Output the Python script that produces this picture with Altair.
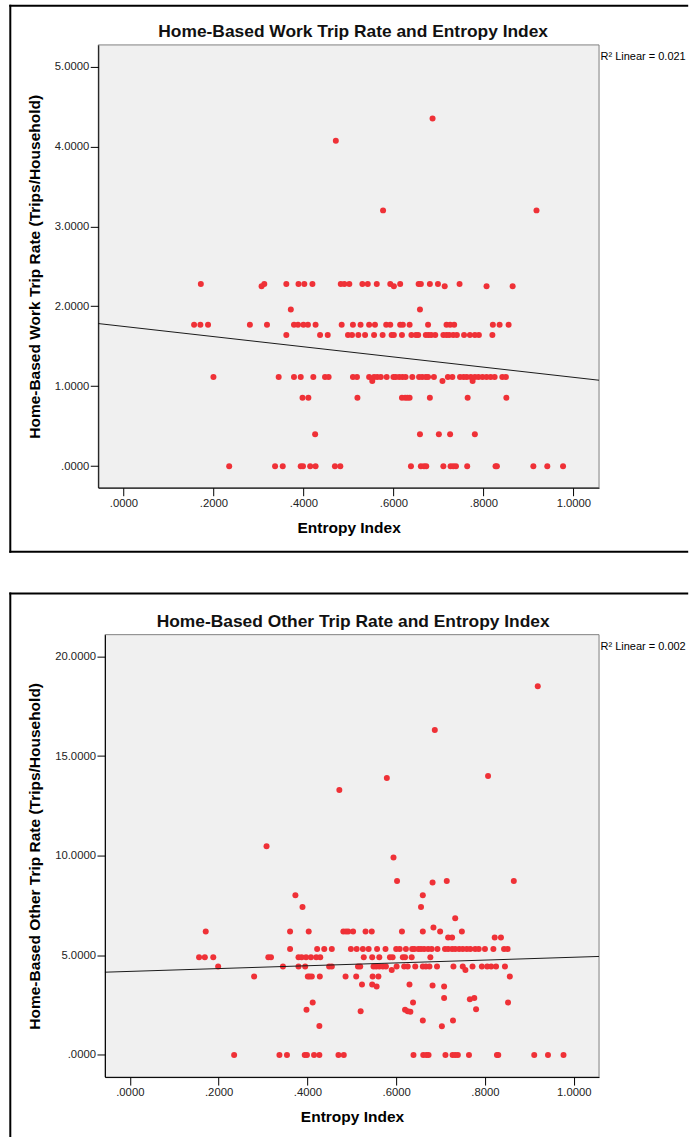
import altair as alt
import pandas as pd

# ---------------- Panel 1: Home-Based Work trip rate ----------------
hbw_levels = [2.28, 2.25, 1.96, 1.77, 1.64, 1.115, 1.065, 0.855, 0.40, 0.0]
hbw_entropy_by_level = [
    [0.172, 0.313, 0.362, 0.389, 0.402, 0.420, 0.483, 0.491, 0.502, 0.531, 0.543,
     0.563, 0.593, 0.615, 0.656, 0.661, 0.681, 0.699, 0.747],
    [0.307, 0.601, 0.714, 0.807, 0.865],
    [0.372, 0.659],
    [0.157, 0.171, 0.188, 0.281, 0.319, 0.379, 0.388, 0.400, 0.410, 0.427, 0.485,
     0.510, 0.527, 0.546, 0.559, 0.584, 0.593, 0.615, 0.621, 0.636, 0.677, 0.718,
     0.726, 0.735, 0.821, 0.836, 0.856],
    [0.362, 0.437, 0.454, 0.499, 0.508, 0.522, 0.537, 0.557, 0.576, 0.596, 0.601,
     0.619, 0.640, 0.650, 0.655, 0.672, 0.678, 0.684, 0.693, 0.711, 0.718, 0.724,
     0.733, 0.741, 0.757, 0.770, 0.781, 0.790, 0.820],
    [0.200, 0.345, 0.379, 0.394, 0.422, 0.448, 0.456, 0.510, 0.519, 0.546, 0.557,
     0.564, 0.572, 0.585, 0.600, 0.605, 0.613, 0.620, 0.627, 0.642, 0.657, 0.664,
     0.672, 0.677, 0.690, 0.721, 0.731, 0.748, 0.756, 0.763, 0.772, 0.781, 0.789,
     0.798, 0.807, 0.816, 0.825, 0.842, 0.850],
    [0.553, 0.709, 0.776],
    [0.398, 0.411, 0.520, 0.619, 0.626, 0.631, 0.636, 0.681, 0.765, 0.851],
    [0.426, 0.659, 0.701, 0.726, 0.781],
    [0.235, 0.337, 0.354, 0.394, 0.399, 0.415, 0.427, 0.470, 0.482, 0.639, 0.661,
     0.668, 0.673, 0.711, 0.727, 0.733, 0.739, 0.764, 0.827, 0.830, 0.911, 0.942,
     0.977],
]
hbw_extra_entropy = [0.472, 0.687, 0.577, 0.918]
hbw_extra_rate = [4.07, 4.35, 3.20, 3.20]
hbw_fit_entropy = [-0.056, 1.057]
hbw_fit_rate = [1.784, 1.075]
hbw_title = "Home-Based Work Trip Rate and Entropy Index"
hbw_ytitle = "Home-Based Work Trip Rate (Trips/Household)"
hbw_r2 = "R² Linear = 0.021"
hbw_yticks = [0, 1, 2, 3, 4, 5]
hbw_ydomain = [-0.27, 5.27]

# ---------------- Panel 2: Home-Based Other trip rate ----------------
hbo_levels = [6.19, 5.89, 5.32, 4.90, 4.43, 4.26, 3.93, 0.0]
hbo_entropy_by_level = [
    [0.171, 0.361, 0.403, 0.481, 0.487, 0.492, 0.503, 0.531, 0.545, 0.613, 0.660,
     0.699, 0.748],
    [0.717, 0.726, 0.822, 0.836],
    [0.361, 0.422, 0.438, 0.455, 0.498, 0.511, 0.525, 0.538, 0.557, 0.576, 0.600,
     0.608, 0.622, 0.636, 0.641, 0.650, 0.656, 0.663, 0.672, 0.680, 0.693, 0.710,
     0.717, 0.726, 0.733, 0.742, 0.750, 0.759, 0.767, 0.778, 0.786, 0.800, 0.819,
     0.843, 0.851],
    [0.156, 0.169, 0.188, 0.312, 0.318, 0.380, 0.387, 0.397, 0.408, 0.420, 0.429,
     0.527, 0.546, 0.562, 0.586, 0.592, 0.615, 0.620, 0.635, 0.677],
    [0.199, 0.345, 0.380, 0.395, 0.449, 0.455, 0.514, 0.519, 0.549, 0.555, 0.562,
     0.570, 0.577, 0.601, 0.618, 0.626, 0.643, 0.660, 0.667, 0.675, 0.692, 0.729,
     0.750, 0.772, 0.793, 0.805, 0.814, 0.825, 0.845],
    [0.590, 0.756],
    [0.280, 0.401, 0.405, 0.410, 0.428, 0.486, 0.510, 0.547, 0.560, 0.856],
    [0.235, 0.337, 0.354, 0.394, 0.399, 0.415, 0.427, 0.470, 0.482, 0.639, 0.661,
     0.668, 0.673, 0.711, 0.727, 0.733, 0.739, 0.764, 0.827, 0.830, 0.911, 0.942,
     0.977],
]
hbo_extra_entropy = [0.472, 0.579, 0.687, 0.807, 0.919, 0.308, 0.594, 0.602, 0.682,
                     0.714, 0.865, 0.373, 0.660, 0.389, 0.656, 0.733, 0.684,
                     0.523, 0.546, 0.556, 0.630, 0.682, 0.708,
                     0.412, 0.398, 0.427, 0.638, 0.708, 0.766, 0.776, 0.780, 0.852,
                     0.520, 0.620, 0.626, 0.632, 0.660, 0.703, 0.728]
hbo_extra_rate = [13.3, 13.9, 16.3, 14.0, 18.5, 10.47, 9.90, 8.73, 8.65,
                  8.73, 8.73, 8.01, 8.01, 7.42, 7.42, 6.86, 6.39,
                  3.53, 3.53, 3.43, 3.53, 3.48, 3.43,
                  2.63, 2.26, 1.45, 2.63, 2.86, 2.79, 2.86, 2.29, 2.63,
                  2.19, 2.26, 2.19, 2.17, 1.72, 1.44, 1.72]
hbo_fit_entropy = [-0.056, 1.057]
hbo_fit_rate = [4.15, 4.94]
hbo_title = "Home-Based Other Trip Rate and Entropy Index"
hbo_ytitle = "Home-Based Other Trip Rate (Trips/Household)"
hbo_r2 = "R² Linear = 0.002"
hbo_yticks = [0, 5, 10, 15, 20]
hbo_ydomain = [-1.114, 21.09]

x_ticks = [0.0, 0.2, 0.4, 0.6, 0.8, 1.0]
x_domain = [-0.056, 1.057]
x_title = "Entropy Index"

FONT = "Liberation Sans"
LABEL_EXPR = ("datum.value < 1 ? substring(format(datum.value, '.4f'), 1) "
              ": format(datum.value, '.4f')")
FRAME_W = 2
VIEW_W = 501          # panel view width (page x 97.3 .. 598.3)


def build_points(levels, by_level, ex_x, ex_y):
    xs, ys = [], []
    for lv, row in zip(levels, by_level):
        for v in row:
            xs.append(v)
            ys.append(lv)
    xs += ex_x
    ys += ex_y
    return pd.DataFrame({"entropy": xs, "rate": ys})


def panel(points, fit_x, fit_y, title, title_y, ytitle, r2, yticks, ydomain,
          x_off, height, frame, frame_bottom):
    width = VIEW_W
    xscale = alt.Scale(domain=x_domain, nice=False, zero=False, range=[x_off, width])
    yscale = alt.Scale(domain=ydomain, nice=False, zero=False)
    xaxis = alt.Axis(values=x_ticks, labelExpr=LABEL_EXPR, title=x_title,
                     titlePadding=11.5, zindex=1)
    yaxis = alt.Axis(values=yticks, labelExpr=LABEL_EXPR, title=ytitle,
                     titlePadding=12, offset=-x_off, zindex=1)

    one = pd.DataFrame({"label": [r2], "title": [title]})

    plot_bg = alt.Chart(one).mark_rect(
        fill="#f0f0f0", stroke="#808080", strokeWidth=1
    ).encode(x=alt.value(x_off), x2=alt.value(width), y=alt.value(0),
             y2=alt.value(height))

    pts = alt.Chart(points).mark_circle(size=36, color="#ef3137", opacity=1).encode(
        x=alt.X("entropy:Q", scale=xscale, axis=xaxis),
        y=alt.Y("rate:Q", scale=yscale, axis=yaxis),
    )
    fit = alt.Chart(pd.DataFrame({"entropy": fit_x, "rate": fit_y})).mark_line(
        color="#1a1a1a", strokeWidth=1, clip=True
    ).encode(x="entropy:Q", y="rate:Q")

    r2txt = alt.Chart(one).mark_text(
        align="left", baseline="alphabetic", font=FONT, fontSize=11, color="black"
    ).encode(x=alt.value(width + 1.5), y=alt.value(15), text="label:N")

    ttl = alt.Chart(one).mark_text(
        align="center", baseline="alphabetic", font=FONT, fontSize=17.4,
        fontWeight="bold", color="#111111", clip=False
    ).encode(x=alt.value(255), y=alt.value(title_y), text="title:N")

    left, top, right, bottom = frame
    rule = dict(color="black", strokeWidth=FRAME_W, strokeCap="square")
    layers = [
        alt.Chart(one).mark_rule(**rule)
        .encode(x=alt.value(left), y=alt.value(top), y2=alt.value(bottom)),
        alt.Chart(one).mark_rule(**rule)
        .encode(x=alt.value(left), x2=alt.value(right), y=alt.value(top)),
    ]
    if frame_bottom:
        layers.append(
            alt.Chart(one).mark_rule(**rule)
            .encode(x=alt.value(left), x2=alt.value(right), y=alt.value(bottom))
        )

    return alt.layer(plot_bg, *layers, pts, fit, r2txt, ttl).properties(
        width=width, height=height)


# view origins in the page: panel 1 at (97.3, 44), panel 2 at (97.3, 632.3);
# panel 2's plot area starts 6.7 px further right (page x 104)
p1 = panel(build_points(hbw_levels, hbw_entropy_by_level, hbw_extra_entropy, hbw_extra_rate),
           hbw_fit_entropy, hbw_fit_rate, hbw_title, -8, hbw_ytitle, hbw_r2,
           hbw_yticks, hbw_ydomain, 0, 443,
           (9.3 - 97.3, 4.7 - 44, 686.5 - 97.3, 551 - 44), True)
p2 = panel(build_points(hbo_levels, hbo_entropy_by_level, hbo_extra_entropy, hbo_extra_rate),
           hbo_fit_entropy, hbo_fit_rate, hbo_title, -8, hbo_ytitle, hbo_r2,
           hbo_yticks, hbo_ydomain, 6.7, 442.6,
           (9.3 - 97.3, 591 - 632.3, 686.5 - 97.3, 1134 - 632.3), False)

chart = alt.concat(p1, p2, columns=1, spacing=38).properties(
    padding={"left": 8.3, "top": 3.7, "right": 0, "bottom": 0},
    background="white",
).configure_view(
    fill="white", strokeOpacity=0
).configure_axis(
    grid=False, domainColor="black", domainWidth=1, tickColor="black",
    tickSize=8, labelPadding=1.5, labelFont=FONT, labelFontSize=11.3,
    labelColor="#222222", titleFont=FONT, titleFontSize=15.5,
    titleFontWeight="bold", titleColor="black",
)

chart.save("out.html", embed_options={"renderer": "svg", "actions": False})
